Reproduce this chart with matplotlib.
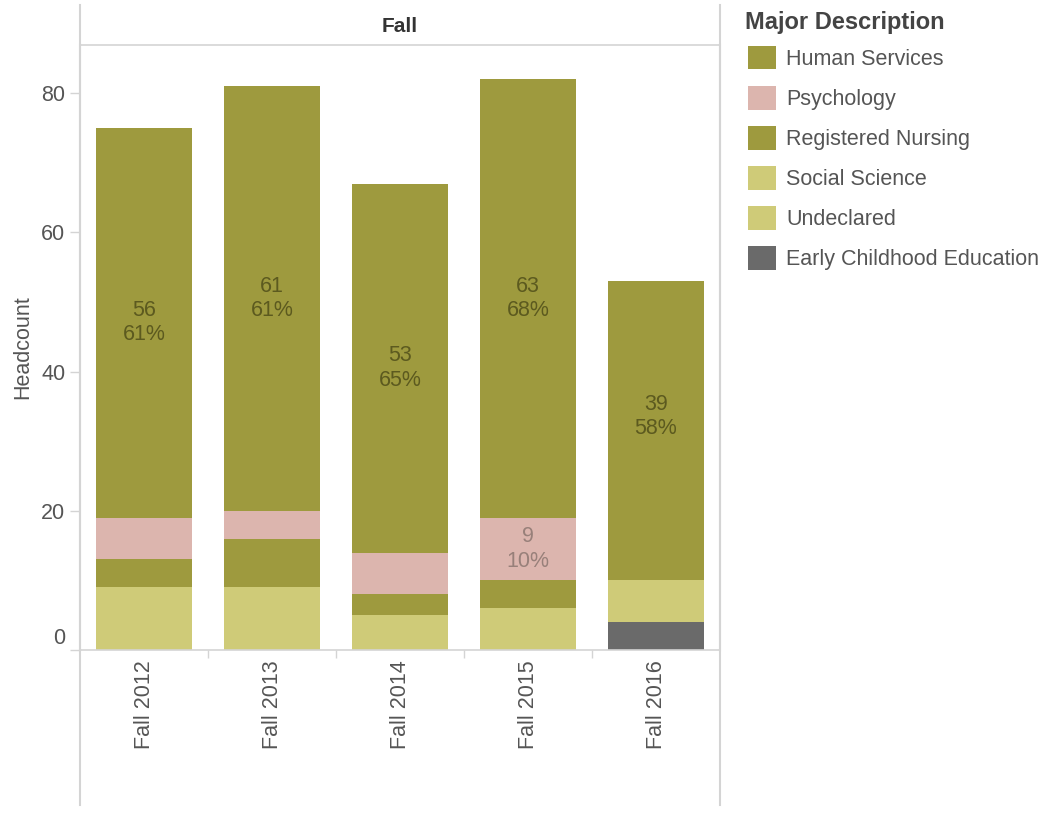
import numpy as np
import matplotlib
matplotlib.use("Agg")
import matplotlib.pyplot as plt
from matplotlib.lines import Line2D
from matplotlib.patches import Patch
from matplotlib import transforms

plt.rcParams['font.family'] = ['Liberation Sans', 'DejaVu Sans']

# ---------------------------------------------------------
#  Data (headcount per term, stacked bottom -> top)
# ---------------------------------------------------------
terms = ["Fall 2012", "Fall 2013", "Fall 2014", "Fall 2015", "Fall 2016"]

early_childhood = [0, 0, 0, 0, 4]
undeclared = [9, 9, 5, 6, 6]
social_science = [0, 0, 0, 0, 0]
registered_nursing = [4, 7, 3, 4, 4]
psychology = [6, 4, 6, 9, 0]
human_services = [56, 61, 53, 63, 39]

# percent labels shown on the bars (None = no label)
hs_pct = [61, 61, 65, 68, 58]
psych_pct = [None, None, None, 10, None]

legend_order = ["Human Services", "Psychology", "Registered Nursing",
                "Social Science", "Undeclared", "Early Childhood Education"]

colors = {
    "Human Services": "#9E9A3E",
    "Psychology": "#DCB5AE",
    "Registered Nursing": "#9E9A3E",
    "Social Science": "#CFCB78",
    "Undeclared": "#CFCB78",
    "Early Childhood Education": "#6A6A6A",
}

stack = [
    ("Early Childhood Education", early_childhood),
    ("Undeclared", undeclared),
    ("Social Science", social_science),
    ("Registered Nursing", registered_nursing),
    ("Psychology", psychology),
    ("Human Services", human_services),
]

GRID = "#D4D4D4"
TXT = "#555555"

W, H = 1049, 836
fig = plt.figure(figsize=(W / 100, H / 100), dpi=100)
ax = fig.add_axes([80 / W, (H - 650) / H, 640 / W, 605 / H])

x = np.arange(len(terms))
bottom = np.zeros(len(terms))
bottoms = {}
for name, vals in stack:
    vals = np.array(vals, dtype=float)
    ax.bar(x, vals, width=0.75, bottom=bottom, color=colors[name], linewidth=0)
    bottoms[name] = bottom.copy()
    bottom = bottom + vals

# bar labels
for i in range(len(terms)):
    if hs_pct[i] is not None:
        v = human_services[i]
        ax.text(x[i], bottoms["Human Services"][i] + v / 2, f"{v}\n{hs_pct[i]}%",
                ha="center", va="center", fontsize=15.5, color="#5C5A1F")
    if psych_pct[i] is not None:
        v = psychology[i]
        ax.text(x[i], bottoms["Psychology"][i] + v / 2, f"{v}\n{psych_pct[i]}%",
                ha="center", va="center", fontsize=15.5, color="#98807A")

ax.set_xlim(-0.5, len(terms) - 0.5)
ax.set_ylim(0, 86.9)

ax.set_yticks([0, 20, 40, 60, 80])
ax.tick_params(axis="y", length=7.2, width=1, color=GRID, labelcolor=TXT,
               labelsize=15.5, pad=3.5)
ylabels = ax.get_yticklabels()
ylabels[0].set_transform(ylabels[0].get_transform() +
                         transforms.ScaledTranslation(0, 14 / 100, fig.dpi_scale_trans))

ax.set_xticks(x)
ax.set_xticklabels(terms, rotation=90, va="top")
ax.tick_params(axis="x", which="major", length=0, labelcolor=TXT,
               labelsize=15.5, pad=7.5)
ax.set_xticks(np.arange(0.5, len(terms) - 0.5), minor=True)
ax.tick_params(axis="x", which="minor", length=6, width=1, color=GRID)

for side in ["left", "right", "top", "bottom"]:
    ax.spines[side].set_color(GRID)
    ax.spines[side].set_linewidth(1.2)
ax.spines["left"].set_linewidth(1.5)
ax.spines["right"].set_linewidth(1.5)

ax.set_ylabel("Headcount", fontsize=15.5, color=TXT)
ax.yaxis.set_label_coords((33 - 80) / 640, 0.5)

# panel frame lines extending above/below the plot area
for xp in (80, 720):
    fig.add_artist(Line2D([xp / W, xp / W], [1 - 5 / H, 1 - 805 / H],
                          color=GRID, linewidth=1.5))

# facet header
fig.text(400 / W, 1 - 27 / H, "Fall", ha="center", va="center",
         fontsize=15, fontweight="bold", color="#333333")

# legend (title drawn separately so the row spacing can be matched)
fig.text(745 / W, 1 - 22 / H, "Major Description", ha="left", va="center",
         fontsize=17, fontweight="bold", color="#444444")
handles = [Patch(facecolor=colors[n], edgecolor="none") for n in legend_order]
leg = fig.legend(handles, legend_order, loc="upper left",
                 bbox_to_anchor=(748 / W, 1 - 46 / H), frameon=False,
                 fontsize=15.5, handlelength=1.3, handleheight=1.3,
                 handletextpad=0.47, labelspacing=0.75, borderpad=0,
                 borderaxespad=0)
for t in leg.get_texts():
    t.set_color(TXT)

fig.savefig("out.png", dpi=100)
